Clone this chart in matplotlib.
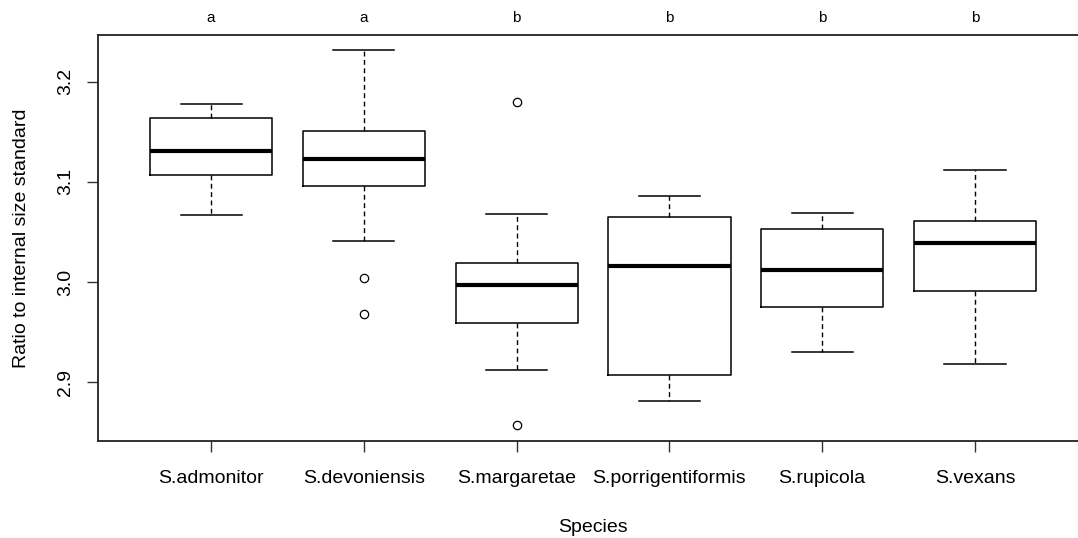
import numpy as np
import matplotlib.pyplot as plt
from matplotlib.transforms import blended_transform_factory

plt.rcParams['font.family'] = ['Liberation Sans', 'DejaVu Sans']

species = ['S.admonitor', 'S.devoniensis', 'S.margaretae', 'S.porrigentiformis', 'S.rupicola', 'S.vexans']
groups = ['a', 'a', 'b', 'b', 'b', 'b']

whislo = [3.067, 3.041, 2.912, 2.881, 2.930, 2.918]
q1 = [3.107, 3.096, 2.959, 2.907, 2.975, 2.991]
med = [3.131, 3.123, 2.997, 3.016, 3.012, 3.039]
q3 = [3.164, 3.151, 3.019, 3.065, 3.053, 3.061]
whishi = [3.178, 3.232, 3.068, 3.086, 3.069, 3.112]
fliers = [[], [3.004, 2.968], [3.180, 2.857], [], [], []]

fontsize = 14

fig = plt.figure(figsize=(10.78, 5.38), dpi=100)
ax1 = fig.add_axes([98/1078, 97/538, 990/1078, 406/538])

stats = []
for i in range(len(species)):
	stats.append(dict(med=med[i], q1=q1[i], q3=q3[i], whislo=whislo[i], whishi=whishi[i], fliers=fliers[i]))

pos = np.arange(1, len(species) + 1)
ax1.bxp(stats, positions=pos, widths=0.8, capwidths=0.4, showfliers=True, patch_artist=False,
		boxprops=dict(color='black', lw=1.1),
		medianprops=dict(color='black', lw=3.0, solid_capstyle='butt'),
		whiskerprops=dict(color='black', lw=1.0, linestyle=(0, (3.5, 2.5))),
		capprops=dict(color='black', lw=1.1),
		flierprops=dict(marker='o', markersize=6, markerfacecolor='none', markeredgecolor='black', markeredgewidth=0.9))

ax1.set_xlim(0.26, 6.74)
ax1.set_ylim(2.8414, 3.2466)
ax1.set_xticks(pos)
ax1.set_xticklabels(species)
ax1.set_yticks([2.9, 3.0, 3.1, 3.2])
ax1.set_yticklabels(['2.9', '3.0', '3.1', '3.2'], rotation=90, va='center')

ax1.xaxis.set_tick_params(labelsize=fontsize, size=8, width=1, pad=13, color='#333333')
ax1.yaxis.set_tick_params(labelsize=fontsize, size=8, width=1, pad=9, color='#333333')

for s in ax1.spines.values():
	s.set_linewidth(1.3)
	s.set_color('#222222')

ax1.set_xlabel('Species', fontsize=fontsize, labelpad=23)
ax1.set_ylabel('Ratio to internal size standard', fontsize=fontsize, labelpad=20)

trans = blended_transform_factory(ax1.transData, ax1.transAxes)
for i in range(len(species)):
	ax1.text(pos[i], 1.042, groups[i], transform=trans, ha='center', va='center', fontsize=11)

fig.savefig('out.png', dpi=100)
plt.close()
